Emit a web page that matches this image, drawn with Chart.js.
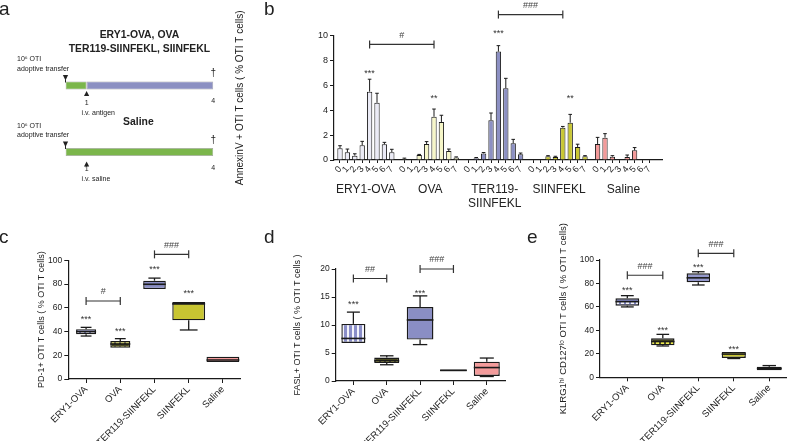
<!DOCTYPE html>
<html><head><meta charset="utf-8">
<script src="https://cdn.jsdelivr.net/npm/chart.js@4.4.1/dist/chart.umd.min.js"></script>
<style>
html,body{margin:0;padding:0;background:#fff;}
body{width:787px;height:441px;overflow:hidden;position:relative;font-family:"Liberation Sans",Arial,sans-serif;}
canvas{position:absolute;}
.lbl{position:absolute;font-size:19px;line-height:19px;color:#222;}
</style></head><body>
<canvas id="pa" width="230" height="200" style="left:0;top:0;width:230px;height:200px"></canvas>
<canvas id="pb" width="557" height="230" style="left:230px;top:0;width:557px;height:230px"></canvas>
<canvas id="pc" width="260" height="211" style="left:0;top:230px;width:260px;height:211px"></canvas>
<canvas id="pd" width="260" height="211" style="left:260px;top:230px;width:260px;height:211px"></canvas>
<canvas id="pe" width="280" height="241" style="left:520px;top:200px;width:280px;height:241px"></canvas>
<div class="lbl" style="left:-1px;top:-1px">a</div>
<div class="lbl" style="left:264px;top:-1px">b</div>
<div class="lbl" style="left:-1px;top:227px">c</div>
<div class="lbl" style="left:264px;top:227px">d</div>
<div class="lbl" style="left:527px;top:227px">e</div>
<script>
// ---------------- DATA ----------------
// panel a (schematic; positions are schematic, not to scale)
const schedTitles = [['ERY1-OVA, OVA', 'TER119-SIINFEKL, SIINFEKL'], ['Saline']];
const schedInjection = ['i.v. antigen', 'i.v. saline'];
const schedDayLabels = ['1', '4'];
const schedPos = [0, 1, 7];           // transfer, injection, sacrifice (schematic units)

// panel b
const groupsB = ['ERY1-OVA', 'OVA', 'TER119-SIINFEKL', 'SIINFEKL', 'Saline'];
const groupLabelsB = [['ERY1-OVA'], ['OVA'], ['TER119-', 'SIINFEKL'], ['SIINFEKL'], ['Saline']];
const daysB = ['0', '1', '2', '3', '4', '5', '6', '7'];
const annexEry1 = [0.94, 0.62, 0.35, 1.18, 5.5, 4.6, 1.26, 0.62];
const annexOva = [0.1, 0, 0.4, 1.29, 3.48, 3.06, 0.72, 0.2];
const annexTer = [0, 0.15, 0.53, 3.2, 8.72, 5.77, 1.34, 0.46];
const annexSiin = [0, 0, 0.3, 0.25, 2.6, 3.0, 1.05, 0.3];
const annexSaline = [1.29, 1.8, 0.27, 0, 0.25, 0.78, 0, 0];
const semEry1 = [0.21, 0.26, 0.15, 0.32, 1.0, 0.77, 0.16, 0.24];
const semOva = [0.05, 0, 0.05, 0.19, 0.62, 0.54, 0.16, 0.05];
const semTer = [0, 0.05, 0.07, 0.58, 0.48, 0.8, 0.32, 0.1];
const semSiin = [0, 0, 0.05, 0.05, 0.1, 0.67, 0.22, 0.05];
const semSaline = [0.53, 0.32, 0.08, 0, 0.15, 0.22, 0, 0];
const yTicksB = [0, 2, 4, 6, 8, 10];
const starsB = [[0, 4, '***', 7.1], [1, 4, '**', 5.1], [2, 4, '***', 10.3], [3, 5, '**', 5.1]];
const bracketsB = [[0, 4, 1, 4, '#', 9.3], [2, 4, 3, 4, '###', 11.7]];

// panels c, d, e
const cats = ['ERY1-OVA', 'OVA', 'TER119-SIINFEKL', 'SIINFEKL', 'Saline'];
const pd1Min = [36.2, 26, 75.5, 41.3, 14];
const pd1Q1 = [37.6, 26.4, 75.8, 49.4, 14.3];
const pd1Med = [39.9, 29.5, 79.8, 63.3, 16];
const pd1Q3 = [42, 32, 82.8, 64.9, 18.8];
const pd1Max = [43.5, 34, 85, 64.9, 19];
const pd1Stars = ['***', '***', '***', '***', ''];
const pd1StarLevel = [52, 41.3, 94, 73.5, 0];
const pd1Brackets = [[0, 1, '#', 65.7], [2, 3, '###', 105]];

const faslMin = [6.8, 2.9, 6.5, 1.7, 0.8];
const faslQ1 = [6.8, 3.2, 7.4, 1.75, 0.9];
const faslMed = [7.6, 3.6, 10.9, 1.9, 2.4];
const faslQ3 = [10.2, 4.2, 13.2, 2.05, 3.45];
const faslMax = [12.3, 4.5, 15.2, 2.1, 4.1];
const faslStars = ['***', '', '***', '', ''];
const faslStarLevel = [14, 0, 15.9, 0, 0];
const faslBrackets = [[0, 1, '##', 18.3], [2, 3, '###', 20]];

const klrgMin = [60, 26.7, 78.7, 16, 5.8];
const klrgQ1 = [61, 27.3, 81, 16.5, 6];
const klrgMed = [64.5, 30.5, 84.8, 19.8, 7.5];
const klrgQ3 = [67.3, 33.2, 88.6, 21.6, 9];
const klrgMax = [69.6, 36.6, 90, 22, 10];
const klrgStars = ['***', '***', '***', '***', ''];
const klrgStarLevel = [75.3, 42, 95.5, 25.6, 0];
const klrgBrackets = [[0, 1, '###', 87], [2, 3, '###', 105.7]];

// ---------------- STYLE ----------------
const FONT = '"Liberation Sans", Arial, sans-serif';
Chart.defaults.font.family = FONT;
Chart.defaults.color = '#222';
Chart.defaults.animation = false;
Chart.defaults.plugins.legend.display = false;
Chart.defaults.plugins.tooltip.enabled = false;
const INK = '#1a1a1a';

function pattern(bg, fg, kind) {
  const c = document.createElement('canvas');
  c.width = 5; c.height = 5;
  const x = c.getContext('2d');
  x.fillStyle = bg; x.fillRect(0, 0, 5, 5);
  x.fillStyle = fg;
  if (kind === 'cells') x.fillRect(1, 1, 3, 3);
  else if (kind === 'vstripe') x.fillRect(2, 0, 2, 5);
  return x.createPattern(c, 'repeat');
}

function line(ctx, x1, y1, x2, y2) { ctx.beginPath(); ctx.moveTo(x1, y1); ctx.lineTo(x2, y2); ctx.stroke(); }

function drawBracket(ctx, x1, x2, yp, text) {
  ctx.strokeStyle = '#333'; ctx.lineWidth = 1.2;
  line(ctx, x1, yp, x2, yp);
  line(ctx, x1, yp - 4, x1, yp + 4);
  line(ctx, x2, yp - 4, x2, yp + 4);
  ctx.fillStyle = '#444'; ctx.font = '9px ' + FONT;
  ctx.textAlign = 'center'; ctx.textBaseline = 'middle';
  ctx.fillText(text, (x1 + x2) / 2, yp - 9);
}
function drawStar(ctx, x, yp, text) {
  ctx.fillStyle = '#333'; ctx.font = '9px ' + FONT;
  ctx.textAlign = 'center'; ctx.textBaseline = 'middle';
  ctx.fillText(text, x, yp + 2);
}

// ---------------- PANEL A ----------------
const aPlugin = {
  id: 'sched',
  afterDraw(chart) {
    const {ctx, scales: {x, y}, chartArea} = chart;
    ctx.save();
    ctx.fillStyle = '#222'; ctx.strokeStyle = '#222';
    const cx = (chartArea.left + chartArea.right) / 2;
    const x0 = x.getPixelForValue(schedPos[0]);
    const x1 = x.getPixelForValue(schedPos[1]);
    const x4 = x.getPixelForValue(schedPos[2]);
    [0, 1].forEach(r => {
      const yc = y.getPixelForValue(r);
      ctx.textAlign = 'center'; ctx.textBaseline = 'middle';
      ctx.font = 'bold 10.4px ' + FONT;
      const tl = schedTitles[r];
      if (tl.length === 2) { ctx.fillText(tl[0], cx, yc - 50.5); ctx.fillText(tl[1], cx, yc - 36.5); }
      else ctx.fillText(tl[0], cx - 1, yc - 30);
      ctx.font = '7px ' + FONT; ctx.textAlign = 'left';
      ctx.fillText('10\u2076 OTI', 17, yc - 26);
      ctx.fillText('adoptive transfer', 17, yc - 16.5);
      // down triangle
      ctx.beginPath(); ctx.moveTo(x0 - 2.6, yc - 10.5); ctx.lineTo(x0 + 2.6, yc - 10.5); ctx.lineTo(x0, yc - 5); ctx.closePath(); ctx.fill();
      ctx.lineWidth = 1; line(ctx, x0, yc - 6, x0, yc - 3);
      // up triangle
      const yu = r === 0 ? 5.5 : 9.5;
      ctx.beginPath(); ctx.moveTo(x1 - 2.6, yc + yu + 5); ctx.lineTo(x1 + 2.6, yc + yu + 5); ctx.lineTo(x1, yc + yu); ctx.closePath(); ctx.fill();
      ctx.textAlign = 'center';
      ctx.fillText(schedDayLabels[0], x1, yc + 17.5);
      ctx.fillText(schedDayLabels[1], x4, yc + 16);
      ctx.textAlign = 'left';
      ctx.fillText(schedInjection[r], x1 - 5, yc + 27.5);
      ctx.font = '10px ' + FONT; ctx.textAlign = 'center';
      ctx.fillText('\u2020', x4, yc - 12);
    });
    ctx.restore();
  }
};
new Chart(document.getElementById('pa'), {
  type: 'bar',
  data: {
    labels: ['antigen', 'saline'],
    datasets: [
      {data: [[schedPos[0], schedPos[1]], [schedPos[0], schedPos[2]]], backgroundColor: '#7bb64b', borderColor: 'rgba(70,70,70,0.5)', borderWidth: 0.8, borderSkipped: false, grouped: false, barPercentage: 0.12, categoryPercentage: 1},
      {data: [[schedPos[1], schedPos[2]], null], backgroundColor: '#8c90c2', borderColor: 'rgba(70,70,70,0.5)', borderWidth: 0.8, borderSkipped: false, grouped: false, barPercentage: 0.12, categoryPercentage: 1}
    ]
  },
  options: {
    responsive: false, indexAxis: 'y',
    layout: {padding: {left: 65.5, right: 16.7, top: 52.25, bottom: 14.75}},
    scales: {x: {type: 'linear', min: 0, max: 7, display: false, offset: false}, y: {display: false}}
  },
  plugins: [aPlugin]
});

// ---------------- PANEL B ----------------
const seriesB = [annexEry1, annexOva, annexTer, annexSiin, annexSaline];
const semB = [semEry1, semOva, semTer, semSiin, semSaline];
const colorsB = ['#ebebf6', '#f6f6c8', '#8c90c3', '#c9c733', '#f39a9a'];
const GROUP_STRIDE = 8.7;
const posB = (g, d) => g * GROUP_STRIDE + d;
const ptsB = [], colB = [], errB = [];
seriesB.forEach((s, g) => s.forEach((v, d) => { ptsB.push({x: posB(g, d), y: v}); colB.push(colorsB[g]); errB.push(semB[g][d]); }));

const bPlugin = {
  id: 'bdeco',
  afterDatasetsDraw(chart) {
    const {ctx, scales: {x, y}} = chart;
    ctx.save();
    ctx.strokeStyle = INK; ctx.lineWidth = 1;
    chart.getDatasetMeta(0).data.forEach((el, i) => {
      const s = errB[i]; if (!s) return;
      const yt = y.getPixelForValue(ptsB[i].y + s);
      line(ctx, el.x, el.y, el.x, yt);
      line(ctx, el.x - 1.8, yt, el.x + 1.8, yt);
    });
    starsB.forEach(([g, d, t, lv]) => drawStar(ctx, x.getPixelForValue(posB(g, d)), y.getPixelForValue(lv), t));
    bracketsB.forEach(([g1, d1, g2, d2, t, lv]) => drawBracket(ctx, x.getPixelForValue(posB(g1, d1)), x.getPixelForValue(posB(g2, d2)), y.getPixelForValue(lv), t));
    ctx.restore();
  }
};
new Chart(document.getElementById('pb'), {
  type: 'bar',
  data: {datasets: [{data: ptsB, backgroundColor: colB, borderColor: INK, borderWidth: 1, barPercentage: 0.9, categoryPercentage: 0.8}]},
  options: {
    responsive: false,
    layout: {padding: {left: 4, right: 125, top: 35.7, bottom: 16}},
    scales: {
      x: {
        type: 'linear', min: -0.81, max: 43.5, weight: 0, offset: false,
        afterBuildTicks: s => { s.ticks = ptsB.map(p => ({value: p.x})); },
        afterFit: s => { s.height = 22; },
        ticks: {autoSkip: false, minRotation: 50, maxRotation: 50, padding: 1, font: {size: 9}, callback: (v, i) => daysB[i % daysB.length]},
        grid: {drawOnChartArea: false, drawTicks: true, tickLength: 3, color: INK, offset: false},
        border: {display: true, color: INK, width: 1.2}
      },
      x2: {
        type: 'linear', position: 'bottom', min: -0.81, max: 43.5, weight: 1, offset: false,
        afterBuildTicks: s => { s.ticks = groupsB.map((g, i) => ({value: posB(i, 3.5)})); },
        afterFit: s => { s.height = 32; },
        ticks: {autoSkip: false, maxRotation: 0, minRotation: 0, padding: 0, font: {size: 12}, callback: (v, i) => groupLabelsB[i]},
        grid: {display: false, drawTicks: false, offset: false}, border: {display: false}
      },
      y: {
        min: 0, max: 10,
        afterBuildTicks: s => { s.ticks = yTicksB.map(v => ({value: v})); },
        afterFit: s => { s.width = 100; },
        ticks: {font: {size: 9}, padding: 2},
        grid: {drawOnChartArea: false, drawTicks: true, tickLength: 4, color: INK},
        border: {display: true, color: INK, width: 1.2},
        title: {display: true, text: 'AnnexinV + OTI T cells ( % OTI T cells)', font: {size: 10}, padding: 0}
      }
    }
  },
  plugins: [bPlugin]
});

// ---------------- PANELS C, D, E ----------------
function boxChart(id, cfg) {
  const fills = cfg.fills;
  const datasets = cats.map((c, i) => ({
    data: [{x: i, y: [cfg.q1[i], cfg.q3[i]]}],
    backgroundColor: fills[i], borderColor: INK, borderWidth: 1.4, borderSkipped: false,
    grouped: false, barPercentage: cfg.widths[i], categoryPercentage: 1
  }));
  const plugin = {
    id: 'boxdeco',
    afterDatasetsDraw(chart) {
      const {ctx, scales: {x, y}} = chart;
      ctx.save();
      ctx.strokeStyle = INK;
      datasets.forEach((ds, i) => {
        const el = chart.getDatasetMeta(i).data[0];
        const w = el.width, cx = el.x;
        const pMin = y.getPixelForValue(cfg.min[i]), pMax = y.getPixelForValue(cfg.max[i]);
        const pQ1 = y.getPixelForValue(cfg.q1[i]), pQ3 = y.getPixelForValue(cfg.q3[i]);
        const pMed = y.getPixelForValue(cfg.med[i]);
        ctx.lineWidth = 1.3;
        if (pQ3 - pMax > 0.5) { line(ctx, cx, pQ3, cx, pMax); line(ctx, cx - w * 0.27, pMax, cx + w * 0.27, pMax); }
        if (pMin - pQ1 > 0.5) { line(ctx, cx, pQ1, cx, pMin); line(ctx, cx - w * 0.27, pMin, cx + w * 0.27, pMin); }
        ctx.lineWidth = 1.6;
        line(ctx, cx - w / 2, pMed, cx + w / 2, pMed);
        if (cfg.stars[i]) drawStar(ctx, cx, y.getPixelForValue(cfg.starLevel[i]), cfg.stars[i]);
      });
      cfg.brackets.forEach(([a, b, t, lv]) => drawBracket(ctx, x.getPixelForValue(a), x.getPixelForValue(b), y.getPixelForValue(lv), t));
      ctx.restore();
    }
  };
  new Chart(document.getElementById(id), {
    type: 'bar',
    data: {datasets},
    options: {
      responsive: false,
      layout: {padding: cfg.padding},
      scales: {
        x: {
          type: 'linear', min: cfg.xmin, max: cfg.xmax, offset: false,
          afterBuildTicks: s => { s.ticks = cats.map((c, i) => ({value: i})); },
          afterFit: s => { s.height = cfg.xh; },
          ticks: {autoSkip: false, minRotation: 45, maxRotation: 45, padding: 1, font: {size: 9.5}, callback: (v, i) => cats[i]},
          grid: {drawOnChartArea: false, drawTicks: true, tickLength: 4, color: INK, offset: false},
          border: {display: true, color: INK, width: 1.2}
        },
        y: {
          min: 0, max: cfg.ymax,
          afterBuildTicks: s => { s.ticks = cfg.yticks.map(v => ({value: v})); },
          afterFit: s => { s.width = cfg.yw; },
          ticks: {font: {size: 8.5}, padding: 2},
          grid: {drawOnChartArea: false, drawTicks: true, tickLength: 4, color: INK},
          border: {display: true, color: INK, width: 1.2},
          title: {display: true, text: cfg.title, font: {size: cfg.titleSize || 9}, padding: 0}
        }
      }
    },
    plugins: [plugin]
  });
}

const ery1Cells = pattern('#7f84c2', '#f4f4fb', 'cells');
const ovaCells = pattern('#4a4a22', '#ece94c', 'cells');
const ery1Stripes = pattern('#8a8ec8', '#f4f4fb', 'vstripe');
const TER = '#8a8ec4', SIIN = '#c8c532', SAL = '#f39b9b';

boxChart('pc', {
  min: pd1Min, q1: pd1Q1, med: pd1Med, q3: pd1Q3, max: pd1Max,
  stars: pd1Stars, starLevel: pd1StarLevel, brackets: pd1Brackets,
  fills: [ery1Cells, ovaCells, TER, SIIN, SAL], widths: [0.585, 0.585, 0.66, 0.96, 0.96],
  padding: {left: 36, right: 20, top: 30.3, bottom: 0}, yw: 32.3, xh: 62,
  xmin: -0.52, xmax: 4.5, ymax: 100, yticks: [0, 20, 40, 60, 80, 100],
  title: 'PD-1+ OTI T cells ( % OTI T cells)'
});
boxChart('pd', {
  min: faslMin, q1: faslQ1, med: faslMed, q3: faslQ3, max: faslMax,
  stars: faslStars, starLevel: faslStarLevel, brackets: faslBrackets,
  fills: [ery1Stripes, ovaCells, TER, SIIN, SAL], widths: [0.72, 0.75, 0.8, 0.8, 0.78],
  padding: {left: 32.6, right: 14.2, top: 39, bottom: 0}, yw: 43.1, xh: 60,
  xmin: -0.53, xmax: 4.57, ymax: 20, yticks: [0, 5, 10, 15, 20],
  title: 'FASL+ OTI T cells ( % OTI T cells )'
});
boxChart('pe', {
  min: klrgMin, q1: klrgQ1, med: klrgMed, q3: klrgQ3, max: klrgMax,
  stars: klrgStars, starLevel: klrgStarLevel, brackets: klrgBrackets,
  fills: [ery1Cells, ovaCells, '#9498cc', SIIN, '#3a2a2a'], widths: [0.67, 0.66, 0.66, 0.68, 0.7],
  padding: {left: 37.3, right: 13, top: 60, bottom: 0}, yw: 42.7, xh: 63.7,
  xmin: -0.77, xmax: 4.5, ymax: 100, yticks: [0, 20, 40, 60, 80, 100],
  title: 'KLRG1\u02B0\u2071 CD127\u02E1\u1D52 OTI T cells ( % OTI T cells)', titleSize: 9.5
});
</script>
</body></html>
